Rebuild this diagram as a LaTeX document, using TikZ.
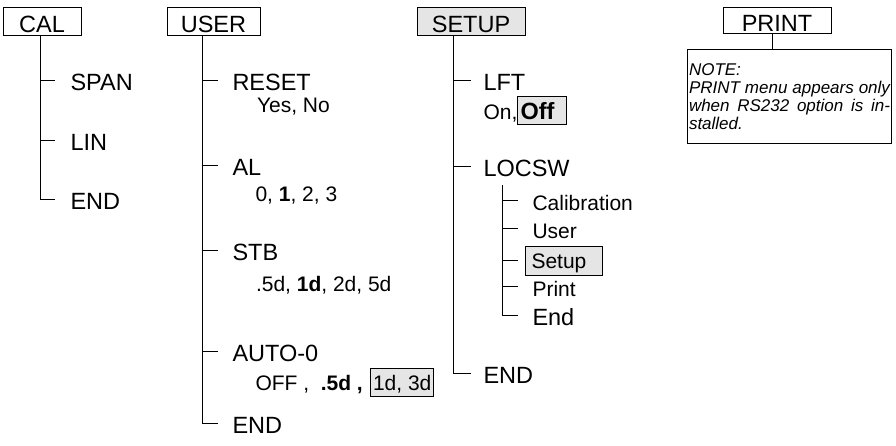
\documentclass[tikz,border=0pt]{standalone}
\usepackage{fontspec}
\setmainfont{Liberation Sans}
\newcommand\bigf{\fontsize{23.5}{28}\selectfont}
\newcommand\smallf{\fontsize{21}{25}\selectfont}
\newcommand\notef{\fontsize{17}{18}\selectfont}

\begin{document}
\begin{tikzpicture}[x=1pt,y=-1pt,line width=1pt,
  menu/.style={draw,inner sep=0,text height=25,text depth=3,font=\bigf},
  item/.style={anchor=base west,inner sep=0,text height=20,text depth=0,font=\bigf},
  sub/.style={item,font=\smallf},
  val/.style={anchor=base west,inner sep=0,font=\smallf},
  sel/.style={draw,fill=gray!20,anchor=base west,inner xsep=3,inner ysep=0}]
 \useasboundingbox (0,0) rectangle (896,445);
 % menu heads
 \node[menu,minimum width=78] (cal) at (42,21) {CAL};
 \node[menu,minimum width=93] (user) at (213.5,21) {USER};
 \node[menu,minimum width=108,fill=gray!20] (setup) at (471,21) {SETUP};
 \node[menu,minimum width=108,text height=24.5,text depth=1.5] (print) at (777,20) {PRINT};
 % CAL
 \coordinate (calx) at (40,0);
 \node[item] (span) at (70,90.5) {SPAN};
 \node[item] (lin) at (70,150) {LIN};
 \node[item] (calend) at (70,209) {END};
 \draw (cal.south -| calx) |- ([xshift=-15]calend.west);
 \draw (calx |- span.west) -- ([xshift=-15]span.west);
 \draw (calx |- lin.west) -- ([xshift=-15]lin.west);
 % USER
 \coordinate (userx) at (202,0);
 \node[item] (reset) at (232,90) {RESET};
 \node[val] (resetv) at (256.5,112.5) {Yes, No};
 \node[item] (al) at (232,175) {AL};
 \node[val] (alv) at (255,201.5) {0, \textbf{1}, 2, 3};
 \node[item] (stb) at (232,260) {STB};
 \node[val] (stbv) at (255.5,291.5) {.5d, \textbf{1d}, 2d, 5d};
 \node[item] (autoz) at (232,361.5) {AUTO-0};
 \node[val] (autov) at (255,390) {OFF ,\ \ \textbf{.5d ,}};
 \node[sel,font=\smallf,inner xsep=2.5,text height=22,text depth=6] (autosel) at (370,390) {1d, 3d};
 \node[item] (userend) at (232,433) {END};
 \draw (user.south -| userx) |- ([xshift=-14]userend.west);
 \draw (userx |- reset.west) -- ([xshift=-14]reset.west);
 \draw (userx |- al.west) -- ([xshift=-14]al.west);
 \draw (userx |- stb.west) -- ([xshift=-14]stb.west);
 \draw (userx |- autoz.west) -- ([xshift=-14]autoz.west);
 % SETUP
 \coordinate (setx) at (453,0);
 \node[item] (lft) at (483,90) {LFT};
 \node[val] (lftv) at (483,119) {On,};
 \node[sel,font=\bigf\bfseries,text width=43,text height=23,text depth=5] (offsel) at (517,119) {Off};
 \node[item] (locsw) at (483,176.5) {LOCSW};
 \node[item] (setend) at (483,383) {END};
 \draw (setup.south -| setx) |- ([xshift=-12]setend.west);
 \draw (setx |- lft.west) -- ([xshift=-12]lft.west);
 \draw (setx |- locsw.west) -- ([xshift=-12]locsw.west);
 % LOCSW list
 \coordinate (locx) at (502,185);
 \node[sub] (calib) at (532,210) {Calibration};
 \node[sub] (usr) at (532,238) {User};
 \node[sel,font=\smallf,text width=65,inner xsep=6,text height=22,text depth=7] (setsel) at (525,268) {Setup};
 \node[sub] (prt) at (532,296.5) {Print};
 \node[item] (lend) at (532,325) {End};
 \draw (locx) |- ([xshift=-14]lend.west);
 \draw (locx |- calib.west) -- ([xshift=-14]calib.west);
 \draw (locx |- usr.west) -- ([xshift=-14]usr.west);
 \draw (locx |- setsel.west) -- ([xshift=-7]setsel.west);
 \draw (locx |- prt.west) -- ([xshift=-14]prt.west);
 % PRINT note
 \node[draw,anchor=north west,text width=201,minimum height=94,inner xsep=1.5,inner ysep=0,
   align=justify,font=\notef\itshape] (note) at (687,49)
   {NOTE:\\PRINT menu appears only\linebreak when RS232 option is in-\linebreak stalled.};
 \draw ([xshift=-5]print.south) -- ([xshift=-5]print.south |- note.north);
\end{tikzpicture}
\end{document}
